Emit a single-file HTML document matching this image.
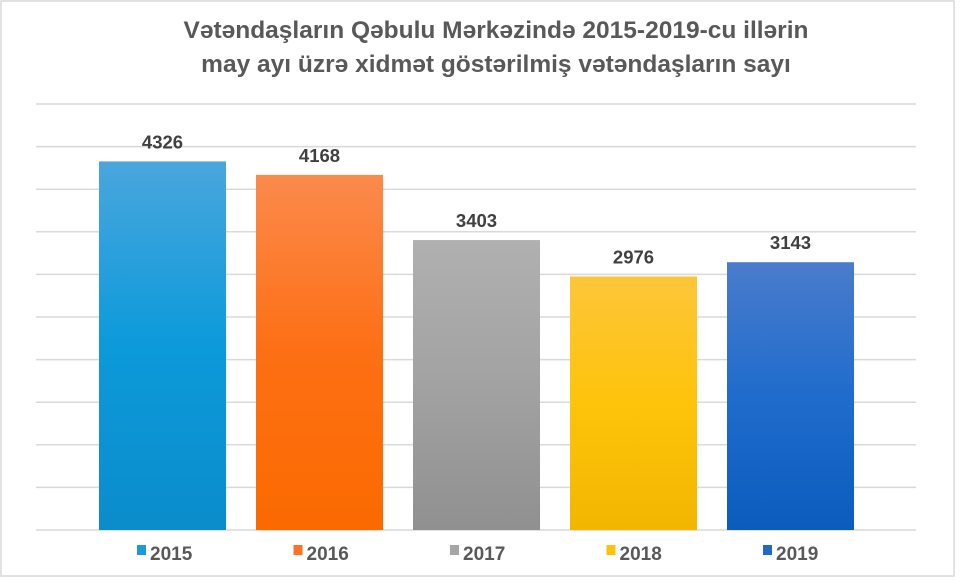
<!DOCTYPE html>
<html><head><meta charset="utf-8"><style>
html,body{margin:0;padding:0;background:#fff;}
svg{display:block;font-family:"Liberation Sans",sans-serif;}
</style></head><body>
<svg id="chart" width="968" height="581" viewBox="0 0 968 581">
<defs>
<linearGradient id="g0" x1="0" y1="0" x2="0" y2="1"><stop offset="0" stop-color="#4aa6dd"/><stop offset="0.5" stop-color="#0c9ada"/><stop offset="1" stop-color="#0b8ccb"/></linearGradient>
<linearGradient id="g1" x1="0" y1="0" x2="0" y2="1"><stop offset="0" stop-color="#fb8a4c"/><stop offset="0.5" stop-color="#fd6f14"/><stop offset="1" stop-color="#fb6a00"/></linearGradient>
<linearGradient id="g2" x1="0" y1="0" x2="0" y2="1"><stop offset="0" stop-color="#b0b0b0"/><stop offset="0.5" stop-color="#a2a2a2"/><stop offset="1" stop-color="#909090"/></linearGradient>
<linearGradient id="g3" x1="0" y1="0" x2="0" y2="1"><stop offset="0" stop-color="#fdc63a"/><stop offset="0.5" stop-color="#fec30b"/><stop offset="1" stop-color="#f2b600"/></linearGradient>
<linearGradient id="g4" x1="0" y1="0" x2="0" y2="1"><stop offset="0" stop-color="#4a7ccc"/><stop offset="0.5" stop-color="#1f6ccc"/><stop offset="1" stop-color="#0b5cbd"/></linearGradient>
</defs>
<rect x="1" y="1" width="953" height="575" fill="#fff" stroke="#d9d9d9" stroke-width="1.5"/>
<text x="496" y="38" text-anchor="middle" font-size="24.5" font-weight="bold" fill="#595959">Vətəndaşların Qəbulu Mərkəzində 2015-2019-cu illərin</text>
<text x="496" y="72" text-anchor="middle" font-size="24.5" font-weight="bold" fill="#595959">may ayı üzrə xidmət göstərilmiş vətəndaşların sayı</text>
<g id="grid"></g><g id="bars"></g><g id="legend"></g>
</svg>
<script>
const categories = ["2015","2016","2017","2018","2019"];
const values = [4326,4168,3403,2976,3143];
const yTicks = [0,500,1000,1500,2000,2500,3000,3500,4000,4500,5000];
const NS="http://www.w3.org/2000/svg";
const plotLeft=36,plotRight=916,plotTop=104,plotBottom=530,yMax=5000;
const barAreaLeft=84,bw=157,barW=127;
function yScale(v){return plotBottom-(v/yMax)*(plotBottom-plotTop);}
function xc(i){return barAreaLeft+bw*(i+0.5);}
function mk(t,a,p){const e=document.createElementNS(NS,t);for(const k in a)e.setAttribute(k,a[k]);p.appendChild(e);return e;}
const grid=document.getElementById('grid');
yTicks.forEach(t=>{const l=mk('line',{x1:plotLeft,x2:plotRight,y1:yScale(t),y2:yScale(t),stroke:'#d9d9d9','stroke-width':1.5},grid);

});
const bars=document.getElementById('bars');
values.forEach((v,i)=>{
const r=mk('rect',{x:xc(i)-barW/2,y:yScale(v),width:barW,height:plotBottom-yScale(v),fill:'url(#g'+i+')'},bars);


const t=mk('text',{x:xc(i),y:yScale(v)-13,'text-anchor':'middle','font-size':18.5,'font-weight':'bold',fill:'#404040'},bars);
t.textContent=v;


});
const cols=['#1a9bd8','#fd7326','#a6a6a6','#fec20a','#1f6bc9'];
const lg=document.getElementById('legend');
categories.forEach((c,i)=>{
const lx=137+i*156.5;
const s=mk('rect',{x:lx,y:545,width:9,height:10,fill:cols[i]},lg);


const t=mk('text',{x:lx+13,y:560,'font-size':19,'font-weight':'bold',fill:'#595959'},lg);
t.textContent=c;


});
</script>
</body></html>
